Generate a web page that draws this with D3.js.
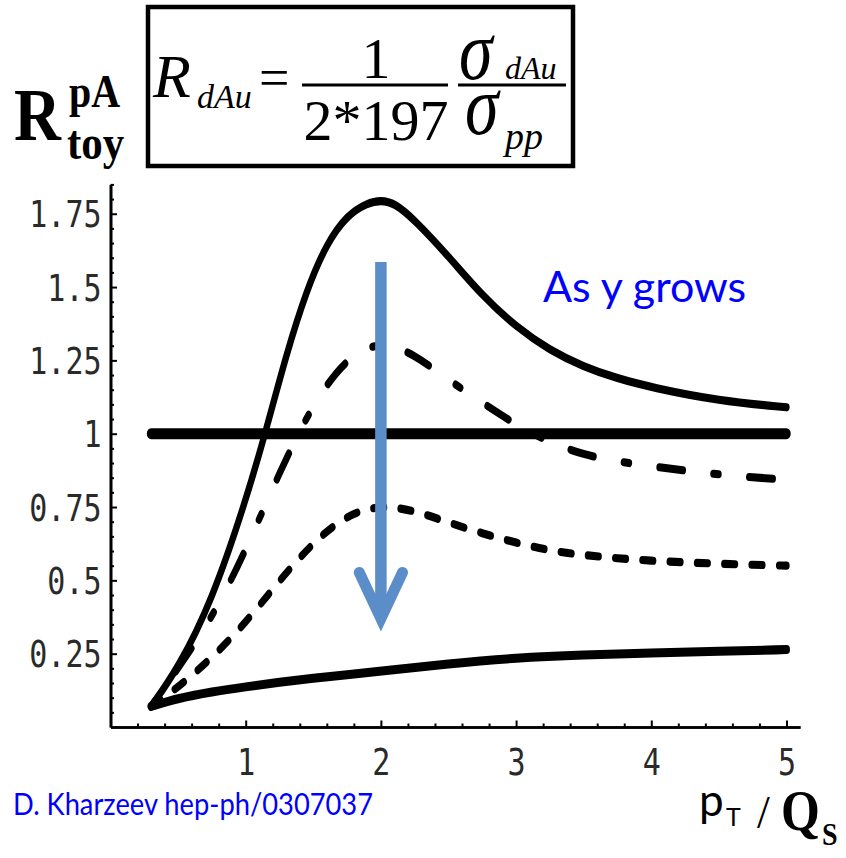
<!DOCTYPE html>
<html>
<head>
<meta charset="utf-8">
<script src="https://cdn.jsdelivr.net/npm/d3@7"></script>
<style>
  html, body { margin: 0; padding: 0; background: #fff; }
  svg { display: block; }
</style>
</head>
<body>
<svg id="chart" width="846" height="858"></svg>
<script>
// R_toy^pA versus p_T / Q_s for four rapidities (highest curve = smallest y)
const ptLowY = [0.3, 0.5, 0.75, 1.0, 1.15, 1.3, 1.45, 1.6, 1.75, 1.9, 2.0, 2.1, 2.25, 2.5, 2.75, 3.0, 3.25, 3.5, 3.75, 4.0, 4.5, 5.0];
const rLowY  = [0.07, 0.20, 0.43, 0.77, 1.01, 1.27, 1.49, 1.65, 1.745, 1.787, 1.796, 1.787, 1.729, 1.605, 1.47, 1.364, 1.284, 1.228, 1.188, 1.158, 1.112, 1.09];

const ptMidY = [0.3, 0.5, 0.75, 1.0, 1.25, 1.5, 1.75, 2.0, 2.25, 2.5, 2.75, 3.0, 3.25, 3.5, 3.75, 4.0, 4.25, 4.5, 4.75, 5.0];
const rMidY  = [0.07, 0.20, 0.37, 0.60, 0.87, 1.105, 1.262, 1.318, 1.27, 1.183, 1.106, 1.03, 0.97, 0.928, 0.905, 0.889, 0.874, 0.861, 0.851, 0.843];

const ptHighY = [0.3, 0.5, 0.75, 1.0, 1.25, 1.5, 1.75, 2.0, 2.25, 2.5, 2.75, 3.0, 3.25, 3.5, 3.75, 4.0, 4.25, 4.5, 4.75, 5.0];
const rHighY  = [0.07, 0.135, 0.235, 0.355, 0.50, 0.63, 0.725, 0.757, 0.738, 0.697, 0.66, 0.628, 0.601, 0.586, 0.575, 0.567, 0.561, 0.557, 0.553, 0.55];

const ptTopY = [0.3, 0.5, 0.75, 1.0, 1.25, 1.5, 1.75, 2.0, 2.5, 3.0, 3.5, 4.0, 4.5, 5.0];
const rTopY  = [0.07, 0.098, 0.12, 0.137, 0.153, 0.166, 0.178, 0.19, 0.216, 0.236, 0.246, 0.252, 0.258, 0.264];

// Reference line R = 1
const ptUnity = [0.3, 5.0];
const rUnity  = [1, 1];

// Axis ticks
const xMajorTicks = [1, 2, 3, 4, 5];
const xMajorLabels = ["1", "2", "3", "4", "5"];
const xMinorTicks = [0.2, 0.4, 0.6, 0.8, 1.2, 1.4, 1.6, 1.8, 2.2, 2.4, 2.6, 2.8, 3.2, 3.4, 3.6, 3.8, 4.2, 4.4, 4.6, 4.8];
const yMajorTicks = [0.25, 0.5, 0.75, 1, 1.25, 1.5, 1.75];
const yMajorLabels = ["0.25", "0.5", "0.75", "1", "1.25", "1.5", "1.75"];
const yMinorTicks = [0.05, 0.1, 0.15, 0.2, 0.3, 0.35, 0.4, 0.45, 0.55, 0.6, 0.65, 0.7, 0.8, 0.85, 0.9, 0.95,
                     1.05, 1.1, 1.15, 1.2, 1.3, 1.35, 1.4, 1.45, 1.55, 1.6, 1.65, 1.7, 1.8, 1.85];

const svg = d3.select("#chart");
svg.append("rect").attr("width", 846).attr("height", 858).attr("fill", "#fff");

const x = d3.scaleLinear().domain([0, 5.1]).range([110.5, 800]);
const y = d3.scaleLinear().domain([0, 1.85]).range([727, 184.4]);

// The plotted curves sit in a frame that is taller than it is wide,
// so strokes and dashes are drawn in that frame's own coordinates.
const stretch = 1.29;
const yFrame = d3.scaleLinear().domain([0, 1.85]).range([0, (y(1.85) - y(0)) / stretch]);

const tickFont = "'DejaVu Sans Mono', 'Liberation Mono', monospace";

// ---- axes ----
function styleAxis(g, width) {
  g.select(".domain").attr("stroke", "#000").attr("stroke-width", width);
  g.selectAll(".tick line").attr("stroke", "#000").attr("stroke-width", 2);
}

const gxMinor = svg.append("g").attr("transform", `translate(0,${y(0)})`)
  .call(d3.axisBottom(x).tickValues(xMinorTicks).tickSize(-3.5).tickSizeOuter(0).tickFormat(""));
styleAxis(gxMinor, 2.6);
const gxMajor = svg.append("g").attr("transform", `translate(0,${y(0)})`)
  .call(d3.axisBottom(x).tickValues(xMajorTicks).tickSize(-6.5).tickSizeOuter(0)
        .tickFormat((d, i) => xMajorLabels[i]));
styleAxis(gxMajor, 2.6);
gxMajor.selectAll(".tick text")
  .attr("y", 0).attr("dy", null)
  .attr("transform", "translate(0,48) scale(1,1.22)")
  .attr("font-family", tickFont).attr("font-size", 30).attr("fill", "#2a2a2a");

const gyMinor = svg.append("g").attr("transform", `translate(${x(0)},0)`)
  .call(d3.axisLeft(y).tickValues(yMinorTicks).tickSize(-3.5).tickSizeOuter(0).tickFormat(""));
styleAxis(gyMinor, 2.6);
const gyMajor = svg.append("g").attr("transform", `translate(${x(0)},0)`)
  .call(d3.axisLeft(y).tickValues(yMajorTicks).tickSize(-6.5).tickSizeOuter(0)
        .tickFormat((d, i) => yMajorLabels[i]));
styleAxis(gyMajor, 2.6);
gyMajor.selectAll(".tick text")
  .attr("x", 0).attr("dy", null)
  .attr("transform", "translate(-9,13) scale(1,1.22)")
  .attr("text-anchor", "end")
  .attr("font-family", tickFont).attr("font-size", 30).attr("fill", "#2a2a2a");

// ---- curves ----
const line = d3.line()
  .x(d => x(d[0]))
  .y(d => yFrame(d[1]))
  .curve(d3.curveBasis);

const curves = svg.append("g")
  .attr("transform", `translate(0,${y(0)}) scale(1,${stretch})`)
  .attr("fill", "none").attr("stroke", "#000")
  .attr("stroke-linecap", "round").attr("stroke-linejoin", "round");

curves.append("path").datum(d3.zip(ptTopY, rTopY))
  .attr("d", line).attr("stroke-width", 7);
curves.append("path").datum(d3.zip(ptHighY, rHighY))
  .attr("d", line).attr("stroke-width", 6.3)
  .attr("stroke-dasharray", "10.8 16.5").attr("stroke-dashoffset", 0);
curves.append("path").datum(d3.zip(ptMidY, rMidY))
  .attr("d", line).attr("stroke-width", 6.3)
  .attr("stroke-dasharray", "23.5 30.6 5.2 30.7").attr("stroke-dashoffset", 53);
curves.append("path").datum(d3.zip(ptLowY, rLowY))
  .attr("d", line).attr("stroke-width", 6.3);
curves.append("path").datum(d3.zip(ptUnity, rUnity))
  .attr("d", d3.line().x(d => x(d[0])).y(d => yFrame(d[1])))
  .attr("stroke-width", 8.5);

// ---- arrow showing the trend with rapidity ----
const arrowColor = "#5b8ec8";
const arrow = svg.append("g").attr("stroke", arrowColor).attr("fill", "none");
arrow.append("line")
  .attr("x1", x(2.0)).attr("x2", x(2.0))
  .attr("y1", y(1.585)).attr("y2", y(0.40))
  .attr("stroke-width", 11.5);
arrow.append("path")
  .attr("d", d3.line()([[x(1.84), y(0.527)], [x(2.0), y(0.37)], [x(2.16), y(0.527)]]))
  .attr("stroke-width", 11).attr("stroke-linecap", "round").attr("stroke-linejoin", "miter");

// ---- annotations ----
const sans = "Lato, 'Open Sans', sans-serif";
svg.append("text").attr("x", 543).attr("y", 302)
  .attr("font-family", sans).attr("font-size", 43).attr("fill", "#0000ff")
  .text("As y grows");
svg.append("text").attr("x", 13).attr("y", 815)
  .attr("font-family", sans).attr("font-size", 30).attr("fill", "#0000ff")
  .attr("textLength", 360).attr("lengthAdjust", "spacingAndGlyphs")
  .text("D. Kharzeev hep-ph/0307037");

// x-axis title: p_T / Q_s
const serif = "'Liberation Serif', 'Times New Roman', serif";
svg.append("text").attr("x", 699).attr("y", 816)
  .attr("font-family", sans).attr("font-size", 44).attr("fill", "#000").text("p");
svg.append("text").attr("x", 726).attr("y", 826)
  .attr("font-family", sans).attr("font-size", 25).attr("fill", "#000").text("T");
svg.append("text").attr("x", 757).attr("y", 828)
  .attr("font-family", serif).attr("font-size", 46).attr("fill", "#000").text("/");
svg.append("text").attr("transform", "translate(781,830) scale(1,1.12)")
  .attr("font-family", serif).attr("font-weight", "bold").attr("font-size", 50).attr("fill", "#000").text("Q");
svg.append("text").attr("transform", "translate(822,845) scale(1,1.12)")
  .attr("font-family", serif).attr("font-weight", "bold").attr("font-size", 28).attr("fill", "#000").text("S");

// y-axis title: R^pA_toy
svg.append("text").attr("transform", "translate(14,140) scale(1,1.15)")
  .attr("font-family", serif).attr("font-weight", "bold").attr("font-size", 65).text("R");
svg.append("text").attr("transform", "translate(69,107) scale(1,1.15)")
  .attr("font-family", serif).attr("font-weight", "bold").attr("font-size", 40).text("pA");
svg.append("text").attr("transform", "translate(67,159) scale(1,1.15)")
  .attr("font-family", serif).attr("font-weight", "bold").attr("font-size", 43).text("toy");

// ---- boxed definition of R_dAu ----
const box = svg.append("g").attr("font-family", serif).attr("fill", "#000");
box.append("rect").attr("x", 148).attr("y", 7).attr("width", 425).attr("height", 159)
  .attr("fill", "none").attr("stroke", "#000").attr("stroke-width", 4.5);
box.append("text").attr("x", 153).attr("y", 97).attr("font-style", "italic").attr("font-size", 62).text("R");
box.append("text").attr("x", 197).attr("y", 108).attr("font-style", "italic").attr("font-size", 34).text("dAu");
box.append("text").attr("x", 259).attr("y", 96).attr("font-size", 54).text("=");
box.append("text").attr("x", 376).attr("y", 78).attr("text-anchor", "middle").attr("font-size", 58).text("1");
box.append("line").attr("x1", 302).attr("x2", 448).attr("y1", 85).attr("y2", 85)
  .attr("stroke", "#000").attr("stroke-width", 3);
box.append("text").attr("x", 376).attr("y", 140).attr("text-anchor", "middle").attr("font-size", 58).text("2*197");
box.append("text").attr("transform", "translate(459,79) scale(1,1.25)")
  .attr("font-style", "italic").attr("font-size", 68).text("σ");
box.append("text").attr("x", 505).attr("y", 79).attr("font-style", "italic").attr("font-size", 32).text("dAu");
box.append("line").attr("x1", 458).attr("x2", 566).attr("y1", 85).attr("y2", 85)
  .attr("stroke", "#000").attr("stroke-width", 3);
box.append("text").attr("transform", "translate(465,134) scale(1,1.25)")
  .attr("font-style", "italic").attr("font-size", 68).text("σ");
box.append("text").attr("x", 505).attr("y", 149).attr("font-style", "italic").attr("font-size", 38).text("pp");
</script>
</body>
</html>
